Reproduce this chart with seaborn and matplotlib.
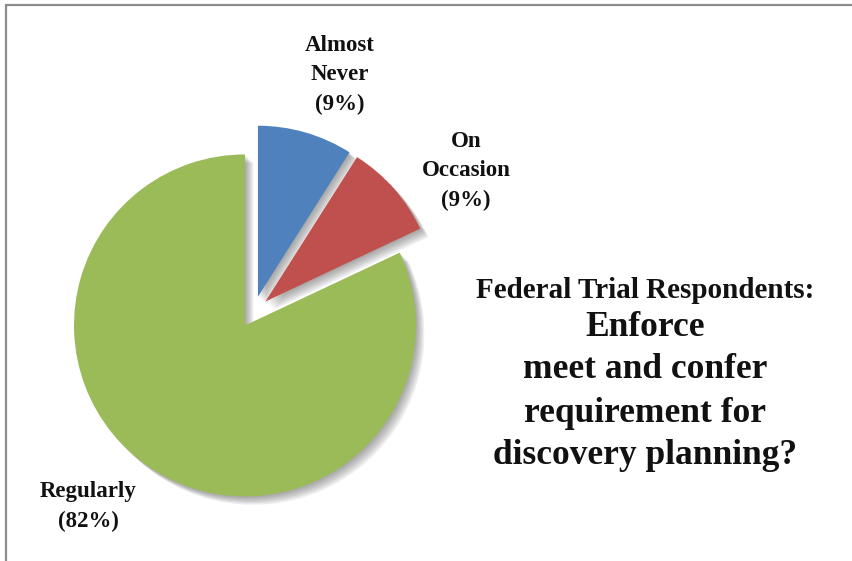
import matplotlib
matplotlib.use("Agg")
import matplotlib.pyplot as plt
import matplotlib.patheffects as pe
from matplotlib.lines import Line2D
import seaborn as sns

# --- chart data ---
categories = ["Almost Never", "On Occasion", "Regularly"]
shares = [9, 9, 82]
slice_labels = ["Almost\nNever\n(9%)", "On\nOccasion\n(9%)", "Regularly\n(82%)"]
title_lines = ["Federal Trial Respondents:", "Enforce", "meet and confer",
               "requirement for", "discovery planning?"]

sns.set_theme(style="white")
plt.rcParams["font.family"] = ["Liberation Serif", "DejaVu Serif"]
colors = sns.color_palette(["#4F81BD", "#C0504D", "#9BBB59"])

W, H = 852, 561
fig = plt.figure(figsize=(W / 100, H / 100), dpi=100)

# pie axes: centre at (253, 312) px from top-left, radius 171 px
R = 171
cx, cy = 253.5, H - 312
half = 1.3 * R
ax = fig.add_axes([(cx - half) / W, (cy - half) / H, 2 * half / W, 2 * half / H])
wedges, _ = ax.pie(shares, colors=colors, startangle=90, counterclock=False,
                   explode=[0.093, 0.093, 0.093], radius=1.0,
                   wedgeprops=dict(linewidth=0))

# soft drop shadow: a few stacked, slightly offset shadows
shadow = [pe.SimplePatchShadow(offset=(k, -k), shadow_rgbFace="#444444", alpha=0.09)
          for k in (1, 2, 3, 4, 5, 6)]
for w in wedges:
    w.set_path_effects(shadow + [pe.Normal()])
    w.set_clip_on(False)
ax.set_xlim(-1.3, 1.3)
ax.set_ylim(-1.3, 1.3)
ax.set_aspect("equal")
ax.axis("off")

# slice labels (pixel positions from top-left)
label_pos = [(340, 75), (466, 171), (88, 507)]
for txt, (x, y) in zip(slice_labels, label_pos):
    fig.text(x / W, 1 - y / H, txt, ha="center", va="center", fontsize=16.5,
             fontweight="bold", linespacing=1.55, color="#111111")

# title block on the right
title_pos = [291, 327, 370, 413, 455]
title_size = [21, 25.5, 25.5, 25.5, 25.5]
for txt, y, fs in zip(title_lines, title_pos, title_size):
    fig.text(645 / W, 1 - y / H, txt, ha="center", va="center", fontsize=fs,
             fontweight="bold", color="#111111")

# frame (only top and left edges visible in the crop)
fig.add_artist(Line2D([6 / W, 1], [1 - 5 / H, 1 - 5 / H], color="#8c8c8c", lw=1.6,
                      transform=fig.transFigure))
fig.add_artist(Line2D([6 / W, 6 / W], [0, 1 - 5 / H], color="#8c8c8c", lw=1.6,
                      transform=fig.transFigure))

fig.savefig("out.png", dpi=100, facecolor="white")
